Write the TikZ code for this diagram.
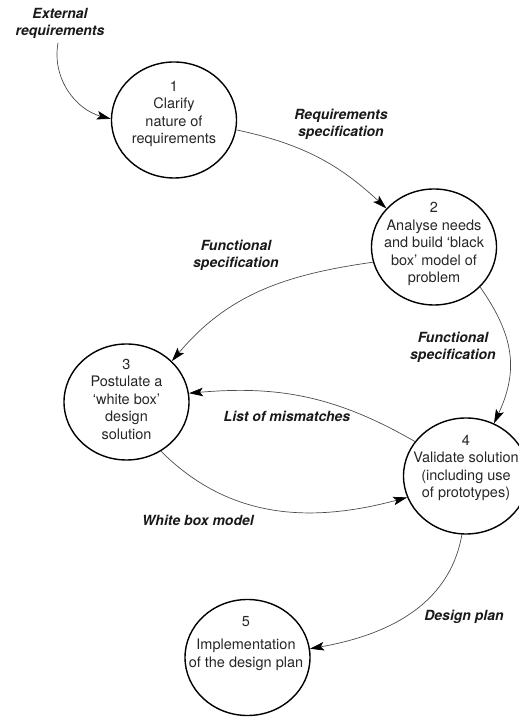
\documentclass[tikz,border=0pt]{standalone}
\usepackage{fontspec}
\setmainfont{TeX Gyre Heros}
\usetikzlibrary{arrows.meta,shapes.geometric}
\begin{document}
\begin{tikzpicture}[x=1pt,y=1pt,
  proc/.style={ellipse,draw=black,line width=1.4pt,minimum width=125pt,minimum height=116pt,inner sep=0pt},
  ptext/.style={align=center,text=black!85,font=\fontsize{14.5}{17.5}\selectfont,inner sep=0pt},
  flow/.style={draw=black!70,line width=0.7pt,-{Stealth[length=14pt,width=8.5pt,inset=3pt,color=black]}},
  lab/.style={align=center,text=black!90,font=\fontsize{14}{17}\selectfont\bfseries\itshape,inner sep=0pt}]
\useasboundingbox (0,0) rectangle (519,717);
% process circles
\node[proc] (c1) at (174,597) {};
\node[proc] (c2) at (434,470) {};
\node[proc] (c3) at (126.5,315) {};
\node[proc] (c4) at (466,241) {};
\node[proc] (c5) at (247.5,59.5) {};
% circle texts
\node[ptext] (t1) at (174,603) {1\\Clarify\\nature of\\requirements};
\node[ptext] (t2) at (434,473) {2\\Analyse needs\\and build `black\\box' model of\\problem};
\node[ptext] (t3) at (126.5,318) {3\\Postulate a\\`white box'\\design\\solution};
\node[ptext] (t4) at (466,249) {4\\Validate solution\\(including use\\of prototypes)};
\node[ptext] (t5) at (246,73.5) {5\\[6pt]Implementation\\of the design plan};
% labels
\node[lab] (ext) at (60,694) {External\\requirements};
\node[lab] (req) at (341,593) {Requirements\\specification};
\node[lab] (fs1) at (236,462) {Functional\\specification};
\node[lab] (fs2) at (453,370) {Functional\\specification};
\node[lab] (lom) at (287,301) {List of mismatches};
\node[lab] (wbm) at (198,197) {White box model};
\node[lab] (dp) at (464,100) {Design plan};
% connectors
\coordinate (extstart) at (58,674);
\draw[flow] (extstart) to[out=-100,in=165] (c1.179);
\draw[flow] (c1.-9) to[out=-12,in=137] (c2.141);
\draw[flow] (c2.194) to[out=188,in=50] (c3.42);
\draw[flow] (c2.-41) to[out=-55,in=65,looseness=1.1] (c4.62);
\draw[flow] (c4.146) to[out=150,in=5] (c3.8);
\draw[flow] (c3.-55) to[out=-45,in=195] (c4.200);
\draw[flow] (c4.-94) to[out=-100,in=10] (c5.8);
\end{tikzpicture}
\end{document}
